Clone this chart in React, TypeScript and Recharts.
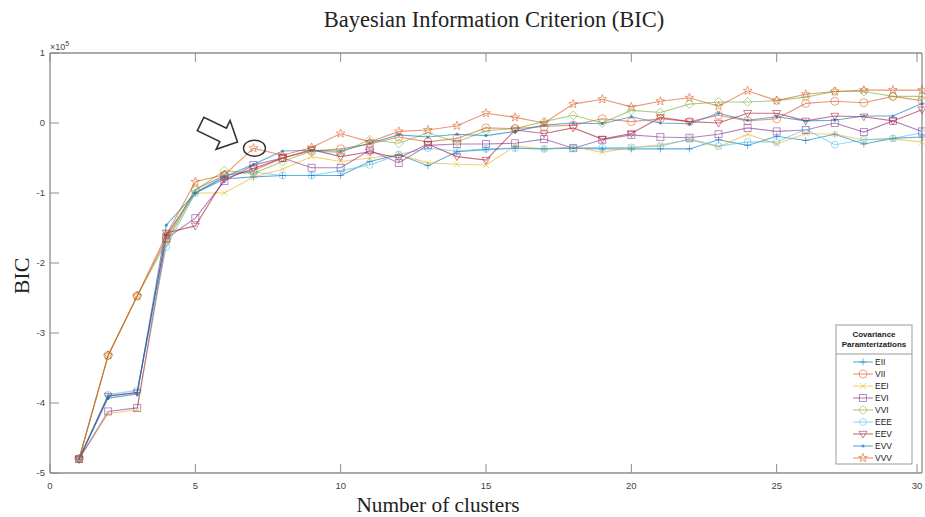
import { LineChart, Line, XAxis, YAxis, ReferenceDot } from "recharts";

// BIC per number of mixture components, in units of 1e5
const clusters = [
  1, 2, 3, 4, 5, 6, 7, 8, 9, 10, 11, 12, 13, 14, 15, 16, 17, 18, 19, 20, 21, 22,
  23, 24, 25, 26, 27, 28, 29, 30,
];

const eii = [
  -4.8, -3.9, -3.85, -1.6, -1.0, -0.8, -0.77, -0.75, -0.75, -0.75, -0.55, -0.45,
  -0.61, -0.41, -0.38, -0.36, -0.37, -0.36, -0.37, -0.37, -0.37, -0.37, -0.24,
  -0.32, -0.19, -0.25, -0.16, -0.3, -0.22, -0.2,
];
const vii = [
  -4.8, -3.32, -2.47, -1.65, -0.95, -0.75, -0.68, -0.5, -0.4, -0.37, -0.3, -0.2,
  -0.27, -0.22, -0.07, -0.08, -0.05, -0.03, 0.06, 0.02, 0.06, 0.02, 0.11, 0.03,
  0.06, 0.28, 0.31, 0.29, 0.38, 0.32,
];
const eei = [
  -4.8, -4.15, -4.1, -1.7, -1.0, -1.0, -0.77, -0.66, -0.48, -0.55, -0.5, -0.45,
  -0.57, -0.59, -0.6, -0.33, -0.37, -0.34, -0.42, -0.35, -0.31, -0.24, -0.34,
  -0.16, -0.3, -0.15, -0.16, -0.24, -0.23, -0.27,
];
const evi = [
  -4.8, -4.12, -4.07, -1.65, -1.36, -0.83, -0.6, -0.5, -0.64, -0.64, -0.39, -0.57,
  -0.32, -0.3, -0.3, -0.29, -0.23, -0.36, -0.24, -0.17, -0.2, -0.21, -0.16, -0.07,
  -0.12, -0.1, 0.0, -0.13, 0.03, -0.12,
];
const vvi = [
  -4.8, -3.32, -2.47, -1.7, -0.96, -0.68, -0.72, -0.55, -0.4, -0.42, -0.24, -0.29,
  -0.14, -0.27, -0.11, -0.08, 0.02, 0.11, 0.0, 0.18, 0.15, 0.27, 0.3, 0.3, 0.32,
  0.37, 0.45, 0.45, 0.38, 0.38,
];
const eee = [
  -4.8, -3.88, -3.82, -1.77, -1.0, -0.75, -0.7, -0.75, -0.75, -0.68, -0.6, -0.45,
  -0.36, -0.4, -0.37, -0.36, -0.37, -0.35, -0.35, -0.35, -0.33, -0.23, -0.33,
  -0.27, -0.27, -0.09, -0.31, -0.24, -0.22, -0.14,
];
const eev = [
  -4.8, -3.9, -3.85, -1.57, -1.47, -0.8, -0.65, -0.5, -0.38, -0.48, -0.41, -0.5,
  -0.3, -0.48, -0.53, -0.1, -0.15, -0.07, -0.23, -0.15, 0.08, 0.02, 0.0, 0.14,
  0.14, 0.03, 0.1, 0.09, 0.03, 0.19,
];
const evv = [
  -4.8, -3.93, -3.87, -1.46, -1.0, -0.77, -0.59, -0.4, -0.39, -0.4, -0.29, -0.17,
  -0.2, -0.16, -0.18, -0.12, -0.03, 0.0, -0.01, 0.09, 0.0, -0.01, 0.14, 0.04,
  0.09, 0.03, 0.04, 0.1, 0.1, 0.28,
];
const vvv = [
  -4.8, -3.32, -2.47, -1.6, -0.84, -0.74, -0.36, -0.46, -0.35, -0.15, -0.27,
  -0.12, -0.1, -0.04, 0.14, 0.08, 0.0, 0.27, 0.34, 0.23, 0.31, 0.36, 0.24, 0.46,
  0.32, 0.41, 0.45, 0.47, 0.47, 0.47,
];

const xTicks = [0, 5, 10, 15, 20, 25, 30];
const yTicks = [-5, -4, -3, -2, -1, 0, 1];

type MarkerShape =
  | "plus"
  | "circle"
  | "cross"
  | "square"
  | "diamond"
  | "ring"
  | "triDown"
  | "dot"
  | "star";

const SERIES: { name: string; values: number[]; color: string; marker: MarkerShape }[] = [
  { name: "EII", values: eii, color: "#0072BD", marker: "plus" },
  { name: "VII", values: vii, color: "#D95319", marker: "circle" },
  { name: "EEI", values: eei, color: "#EDB120", marker: "cross" },
  { name: "EVI", values: evi, color: "#7E2F8E", marker: "square" },
  { name: "VVI", values: vvi, color: "#77AC30", marker: "diamond" },
  { name: "EEE", values: eee, color: "#4DBEEE", marker: "ring" },
  { name: "EEV", values: eev, color: "#A2142F", marker: "triDown" },
  { name: "EVV", values: evv, color: "#0072BD", marker: "dot" },
  { name: "VVV", values: vvv, color: "#D95319", marker: "star" },
];

const data = clusters.map((k, i) => {
  const row: Record<string, number> = { k };
  SERIES.forEach((s) => {
    row[s.name] = s.values[i];
  });
  return row;
});

const W = 925;
const H = 517;
const AXIS = "#8c8c8c";
const TICK_TEXT = "#444";
const TICK_LEN = 9;
const SANS = "'Liberation Sans', Arial, sans-serif";
const SERIF = "'Liberation Serif', 'Times New Roman', serif";
const OPACITY = 0.6;

function starPath(cx: number, cy: number, R: number, r: number) {
  let d = "";
  for (let i = 0; i < 10; i++) {
    const rad = i % 2 === 0 ? R : r;
    const a = -Math.PI / 2 + (i * Math.PI) / 5;
    d += (i === 0 ? "M" : "L") + (cx + rad * Math.cos(a)).toFixed(2) + "," + (cy + rad * Math.sin(a)).toFixed(2);
  }
  return d + "Z";
}

function Marker({ shape, color, cx, cy }: { shape: MarkerShape; color: string; cx: number; cy: number }) {
  const common = { stroke: color, strokeWidth: 0.9, fill: "none", strokeOpacity: OPACITY };
  switch (shape) {
    case "plus":
      return <path d={`M${cx - 3.5},${cy}H${cx + 3.5}M${cx},${cy - 3.5}V${cy + 3.5}`} {...common} />;
    case "circle":
      return <circle cx={cx} cy={cy} r={4} {...common} />;
    case "cross":
      return <path d={`M${cx - 3},${cy - 3}L${cx + 3},${cy + 3}M${cx - 3},${cy + 3}L${cx + 3},${cy - 3}`} {...common} />;
    case "square":
      return <rect x={cx - 3.5} y={cy - 3.5} width={7} height={7} {...common} />;
    case "diamond":
      return <path d={`M${cx},${cy - 4.5}L${cx + 4.5},${cy}L${cx},${cy + 4.5}L${cx - 4.5},${cy}Z`} {...common} />;
    case "ring":
      return <circle cx={cx} cy={cy} r={3.4} {...common} />;
    case "triDown":
      return <path d={`M${cx - 4},${cy - 2.7}L${cx + 4},${cy - 2.7}L${cx},${cy + 4}Z`} {...common} />;
    case "dot":
      return <circle cx={cx} cy={cy} r={1.6} fill={color} fillOpacity={OPACITY} stroke="none" />;
    case "star":
      return <path d={starPath(cx, cy, 4.6, 1.9)} {...common} />;
  }
}

// MATLAB-style ticks: short marks pointing into the plot box
const LeftTick = (p: any) => (
  <g>
    <line x1={p.x} x2={p.x + TICK_LEN} y1={p.y} y2={p.y} stroke={AXIS} />
    <text x={p.x - 5} y={p.y} dy="0.35em" textAnchor="end" fontSize={9.5} fontFamily={SANS} fill={TICK_TEXT}>
      {p.payload.value}
    </text>
  </g>
);
const BottomTick = (p: any) => (
  <g>
    <line x1={p.x} x2={p.x} y1={p.y} y2={p.y - TICK_LEN} stroke={AXIS} />
    <text x={p.x} y={p.y + 16} textAnchor="middle" fontSize={9.5} fontFamily={SANS} fill={TICK_TEXT}>
      {p.payload.value}
    </text>
  </g>
);
const TopTick = (p: any) => <line x1={p.x} x2={p.x} y1={p.y} y2={p.y + TICK_LEN} stroke={AXIS} />;
const RightTick = (p: any) => <line x1={p.x} x2={p.x - TICK_LEN} y1={p.y} y2={p.y} stroke={AXIS} />;

// hollow block arrow, tip at (cx, cy), pointing down-right
const ArrowShape = (p: any) => {
  const { cx, cy } = p;
  if (cx == null || cy == null) return <g />;
  const a = (26 * Math.PI) / 180;
  const local = [
    [0, 0],
    [-16, -16],
    [-16, -7.5],
    [-41, -7.5],
    [-41, 7.5],
    [-16, 7.5],
    [-16, 16],
  ];
  const pts = local
    .map(([u, v]) => {
      const x = cx + u * Math.cos(a) - v * Math.sin(a);
      const y = cy + u * Math.sin(a) + v * Math.cos(a);
      return `${x.toFixed(1)},${y.toFixed(1)}`;
    })
    .join(" ");
  return <polygon points={pts} fill="#fff" stroke="#333" strokeWidth={1.6} strokeLinejoin="miter" />;
};

const EllipseShape = (p: any) => {
  const { cx, cy } = p;
  if (cx == null || cy == null) return <g />;
  return <ellipse cx={cx + 1} cy={cy} rx={11} ry={8} fill="none" stroke="#333" strokeWidth={1.4} />;
};

function LegendBox({ x, y }: { x: number; y: number }) {
  const w = 76;
  const h = 139;
  return (
    <g transform={`translate(${x},${y})`}>
      <rect x={0} y={0} width={w} height={h} fill="#fff" stroke="#999" />
      <text x={w / 2} y={12} textAnchor="middle" fontSize={8} fontWeight="bold" fontFamily={SANS} fill="#222">
        Covariance
      </text>
      <text x={w / 2} y={22} textAnchor="middle" fontSize={8} fontWeight="bold" fontFamily={SANS} fill="#222">
        Paramterizations
      </text>
      <line x1={0} x2={w} y1={29} y2={29} stroke="#999" />
      {SERIES.map((s, i) => {
        const ry = 37 + i * 12;
        return (
          <g key={s.name}>
            <line x1={17} x2={37} y1={ry} y2={ry} stroke={s.color} strokeOpacity={OPACITY} strokeWidth={1.1} />
            <Marker shape={s.marker} color={s.color} cx={27} cy={ry} />
            <text x={39} y={ry} dy="0.35em" fontSize={8.5} fontFamily={SANS} fill="#222">
              {s.name}
            </text>
          </g>
        );
      })}
    </g>
  );
}

export default function App() {
  return (
    <div style={{ position: "absolute", left: 0, top: 0, width: W, height: H, background: "#fff" }}>
      <LineChart width={W} height={H} data={data} margin={{ top: 52, right: 2, bottom: 43, left: 49 }}>
        <XAxis
          dataKey="k"
          type="number"
          domain={[0, 30]}
          ticks={xTicks}
          height={1}
          tickSize={0}
          tickMargin={0}
          tickLine={false}
          axisLine={{ stroke: AXIS, strokeWidth: 1.3 }}
          tick={BottomTick}
        />
        <XAxis
          xAxisId="top"
          orientation="top"
          dataKey="k"
          type="number"
          domain={[0, 30]}
          ticks={xTicks}
          height={1}
          tickSize={0}
          tickMargin={0}
          tickLine={false}
          axisLine={{ stroke: AXIS, strokeWidth: 1.3 }}
          tick={TopTick}
        />
        <YAxis
          type="number"
          domain={[-5, 1]}
          ticks={yTicks}
          width={1}
          tickSize={0}
          tickMargin={0}
          tickLine={false}
          axisLine={{ stroke: AXIS, strokeWidth: 1.3 }}
          tick={LeftTick}
        />
        <YAxis
          yAxisId="right"
          orientation="right"
          type="number"
          domain={[-5, 1]}
          ticks={yTicks}
          width={1}
          tickSize={0}
          tickMargin={0}
          tickLine={false}
          axisLine={{ stroke: AXIS, strokeWidth: 1.3 }}
          tick={RightTick}
        />
        {SERIES.map((s) => (
          <Line
            key={s.name}
            dataKey={s.name}
            stroke={s.color}
            strokeOpacity={OPACITY}
            strokeWidth={1.1}
            isAnimationActive={false}
            dot={(p: any) => <Marker key={`${s.name}-${p.index}`} shape={s.marker} color={s.color} cx={p.cx} cy={p.cy} />}
            activeDot={false}
          />
        ))}
        <ReferenceDot x={7} y={vvv[6]} r={0} shape={EllipseShape} />
        <ReferenceDot x={6.45} y={-0.27} r={0} shape={ArrowShape} />
      </LineChart>

      <svg width={W} height={H} style={{ position: "absolute", left: 0, top: 0, pointerEvents: "none" }}>
        <text x={494} y={27} textAnchor="middle" fontSize={22.5} fontFamily={SERIF} fill="#222">
          Bayesian Information Criterion (BIC)
        </text>
        <text x={438} y={512} textAnchor="middle" fontSize={21.3} fontFamily={SERIF} fill="#222">
          Number of clusters
        </text>
        <text x={29} y={276} transform="rotate(-90 29 276)" textAnchor="middle" fontSize={22} fontFamily={SERIF} fill="#222">
          BIC
        </text>
        <text x={50} y={50} fontSize={9} fontFamily={SANS} fill={TICK_TEXT}>
          ×10
          <tspan dy={-4} fontSize={7}>
            5
          </tspan>
        </text>
        <LegendBox x={836} y={325} />
      </svg>
    </div>
  );
}
